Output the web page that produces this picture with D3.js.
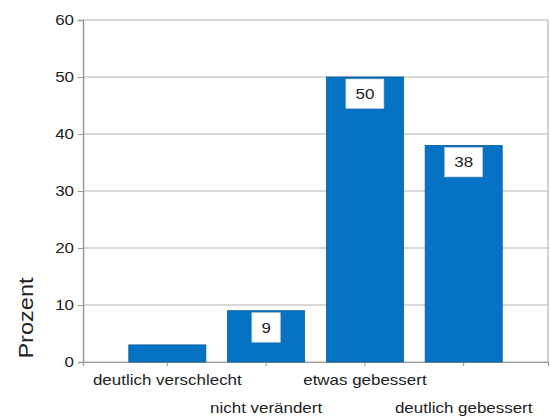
<!DOCTYPE html>
<html><head><meta charset="utf-8">
<script src="https://cdn.jsdelivr.net/npm/d3@7"></script>
<style>
body{margin:0;background:#fff;}
text{font-family:"Liberation Sans",Arial,sans-serif;fill:#222;}
</style></head>
<body><svg id="c" width="550" height="420"></svg>
<script>
const categories = ["deutlich verschlecht","nicht verändert","etwas gebessert","deutlich gebessert"];
const values = [3, 9, 50, 38];
const valueLabels = [null, "9", "50", "38"];
const yTicks = [0,10,20,30,40,50,60];
const yTitle = "Prozent";

const svg = d3.select("#c");
const L = 83, R = 548, T = 20, B = 362;
const x = d3.scaleBand().domain(categories).range([L, R]).paddingInner(0.22).paddingOuter(0.4635);
const y = d3.scaleLinear().domain([0, 60]).range([B, T]);
const SX = 1.13;

// grid
svg.append("g").selectAll("line").data(yTicks).join("line")
  .attr("x1", L).attr("x2", R).attr("y1", d => y(d)).attr("y2", d => y(d))
  .attr("stroke", "#b4b4b4").attr("stroke-width", 1.2);
// right border
svg.append("line").attr("x1", R).attr("x2", R).attr("y1", T).attr("y2", B)
  .attr("stroke", "#b4b4b4").attr("stroke-width", 1.2);

// y axis
const ya = svg.append("g").attr("transform", `translate(${L},0)`)
  .call(d3.axisLeft(y).tickValues(yTicks).tickSize(5).tickPadding(4));
ya.select(".domain").attr("stroke", "#999").attr("stroke-width", 1.5);
ya.selectAll(".tick line").attr("stroke", "#999");
ya.selectAll(".tick text").attr("font-size", 15).attr("fill", "#222")
  .attr("transform", function(){ const xx = +d3.select(this).attr("x"); return `translate(${xx},0) scale(${SX},1) translate(${-xx},0)`; });

// x axis
const xa = svg.append("g").attr("transform", `translate(0,${B})`)
  .call(d3.axisBottom(x).tickSize(4).tickFormat(""));
xa.select(".domain").attr("stroke", "#999").attr("stroke-width", 1.2);
xa.selectAll(".tick line").attr("stroke", "#999");

// bars
svg.append("g").selectAll("rect").data(values).join("rect")
  .attr("x", (d,i) => x(categories[i]))
  .attr("width", x.bandwidth())
  .attr("y", d => y(d))
  .attr("height", d => B - y(d))
  .attr("fill", "#0572c4").attr("stroke", "#0a5d9c").attr("stroke-width", 0.8);

// value labels
const lab = svg.append("g").selectAll("g").data(values.map((v,i)=>({v,i,t:valueLabels[i]})).filter(d=>d.t)).join("g")
  .attr("transform", d => `translate(${x(categories[d.i]) + x.bandwidth()/2},${y(d.v) + 2})`);
lab.append("rect")
  .attr("x", d => -(d.t.length*9.5 + 19)/2).attr("width", d => d.t.length*9.5 + 19)
  .attr("y", 0).attr("height", 29.5).attr("fill", "#fff").attr("stroke", "#ccc").attr("stroke-width", 0.6);
lab.append("text").attr("text-anchor", "middle").attr("y", 20).attr("font-size", 15)
  .attr("transform", `scale(${SX},1)`).text(d => d.t);

// category labels (staggered)
svg.append("g").selectAll("text").data(categories).join("text")
  .attr("text-anchor", "middle").attr("font-size", 15)
  .attr("transform", (d,i) => `translate(${x(d) + x.bandwidth()/2},${i % 2 === 0 ? 385 : 413}) scale(${SX},1)`)
  .text(d => d);

// y title
svg.append("text").attr("text-anchor", "middle").attr("font-size", 20.5)
  .attr("transform", `translate(33,318) rotate(-90) scale(1.15,1)`).text(yTitle);
</script></body></html>
